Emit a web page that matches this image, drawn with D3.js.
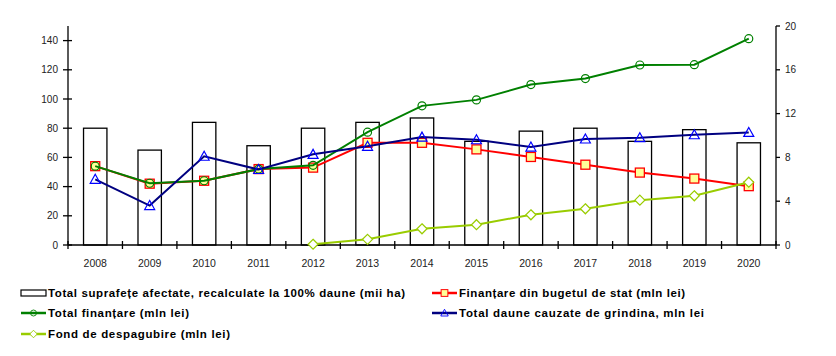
<!DOCTYPE html>
<html>
<head>
<meta charset="utf-8">
<script src="https://cdn.jsdelivr.net/npm/d3@7/dist/d3.min.js"></script>
<style>
  html, body { margin: 0; padding: 0; background: #fff; }
  svg { display: block; }
  text { font-family: "Liberation Sans", Arial, sans-serif; }
</style>
</head>
<body>
<div id="chart"></div>
<script>
const years = ["2008","2009","2010","2011","2012","2013","2014","2015","2016","2017","2018","2019","2020"];
const suprafete = [80, 65, 84, 68, 80, 84, 87, 71, 78, 80, 71, 79, 70];
const bugetStat = [54, 42, 44, 52, 53, 70, 70, 65.5, 60.3, 55, 49.6, 45.5, 40.3];
const totalFinantare = [54, 42.3, 44, 52, 54.6, 77.3, 95.3, 99.4, 109.9, 114, 123.3, 123.5, 141.3];
const totalDaune = [45, 27, 60.8, 51.7, 62.1, 67.6, 73.9, 72.1, 67.1, 72.6, 73.5, 75.5, 77.1];
const fondDespagubire = [null, null, null, null, 0.5, 3.9, 11.1, 13.9, 20.7, 24.8, 30.7, 33.7, 43];
const leftTicks = [0, 20, 40, 60, 80, 100, 120, 140];
const rightTicks = [0, 4, 8, 12, 16, 20];
const legendLabels = [
  "Total suprafețe afectate, recalculate la 100% daune (mii ha)",
  "Finanțare din bugetul de stat (mln lei)",
  "Total finanțare (mln lei)",
  "Total daune cauzate de grindina, mln lei",
  "Fond de despagubire (mln lei)"
];

const W = 836, H = 356;
const svg = d3.select("#chart").append("svg").attr("width", W).attr("height", H);

const x = d3.scaleBand().domain(years).range([68, 776]).padding(0);
const y = d3.scaleLinear().domain([0, 150]).range([245, 26]);
const yR = d3.scaleLinear().domain([0, 20]).range([245, 26]);

// bars
const barW = 23.4;
svg.append("g").selectAll("rect").data(years).join("rect")
  .attr("x", d => x(d) + x.bandwidth() / 2 - barW / 2)
  .attr("y", (d, i) => y(suprafete[i]))
  .attr("width", barW)
  .attr("height", (d, i) => y(0) - y(suprafete[i]))
  .attr("fill", "#fff").attr("stroke", "#000").attr("stroke-width", 1.3);

// axes
const axisG = svg.append("g");
axisG.append("line").attr("x1", 68).attr("x2", 68).attr("y1", 26).attr("y2", 245).attr("stroke", "#000").attr("stroke-width", 1.3);
axisG.selectAll(".lt").data(leftTicks).join("line")
  .attr("x1", 63).attr("x2", 72).attr("y1", d => y(d)).attr("y2", d => y(d))
  .attr("stroke", "#000").attr("stroke-width", 1.3);
axisG.selectAll(".ll").data(leftTicks).join("text")
  .attr("x", 58).attr("y", d => y(d) + 3.5).attr("text-anchor", "end")
  .attr("font-size", 10).attr("fill", "#222").text(d => d);
axisG.append("line").attr("x1", 776).attr("x2", 776).attr("y1", 26).attr("y2", 245).attr("stroke", "#000").attr("stroke-width", 1.3);
axisG.selectAll(".rt").data(rightTicks).join("line")
  .attr("x1", 776).attr("x2", 780).attr("y1", d => yR(d)).attr("y2", d => yR(d))
  .attr("stroke", "#000").attr("stroke-width", 1.3);
axisG.selectAll(".rl").data(rightTicks).join("text")
  .attr("x", 785).attr("y", d => yR(d) + 3.5).attr("text-anchor", "start")
  .attr("font-size", 10).attr("fill", "#222").text(d => d);
axisG.append("line").attr("x1", 68).attr("x2", 776).attr("y1", 245).attr("y2", 245).attr("stroke", "#000").attr("stroke-width", 1.3);
const bounds = years.map(d => x(d)).concat([776]);
axisG.selectAll(".xt").data(bounds).join("line")
  .attr("x1", d => d).attr("x2", d => d).attr("y1", 241).attr("y2", 249)
  .attr("stroke", "#000").attr("stroke-width", 1.3);
axisG.selectAll(".xl").data(years).join("text")
  .attr("x", d => x(d) + x.bandwidth() / 2).attr("y", 267).attr("text-anchor", "middle")
  .attr("font-size", 10.5).attr("fill", "#222").text(d => d);

const cx = d => x(d) + x.bandwidth() / 2;

function drawSeries(values, color, markerFn) {
  const pts = years.map((d, i) => ({ d, v: values[i] })).filter(p => p.v !== null);
  const line = d3.line().x(p => cx(p.d)).y(p => y(p.v));
  const g = svg.append("g");
  g.append("path").attr("d", line(pts)).attr("fill", "none")
    .attr("stroke", color).attr("stroke-width", 2);
  const mg = g.append("g");
  pts.forEach(p => markerFn(mg, cx(p.d), y(p.v)));
}

const squareM = (g, px, py) => g.append("rect").attr("x", px - 4.5).attr("y", py - 4.5).attr("width", 9).attr("height", 9)
  .attr("fill", "#ffff99").attr("stroke", "#ff0000").attr("stroke-width", 1.3);
const circleM = (g, px, py) => g.append("circle").attr("cx", px).attr("cy", py).attr("r", 4)
  .attr("fill", "none").attr("stroke", "#008000").attr("stroke-width", 1.2);
const triM = (g, px, py) => g.append("path")
  .attr("d", `M${px},${py - 5}L${px + 5},${py + 4}L${px - 5},${py + 4}Z`)
  .attr("fill", "none").attr("stroke", "#0000ff").attr("stroke-width", 1.2);
const diaM = (g, px, py) => g.append("path")
  .attr("d", `M${px},${py - 5}L${px + 5},${py}L${px},${py + 5}L${px - 5},${py}Z`)
  .attr("fill", "#fff").attr("stroke", "#99cc00").attr("stroke-width", 1.2);

drawSeries(bugetStat, "#ff0000", squareM);
drawSeries(totalFinantare, "#008000", circleM);
drawSeries(totalDaune, "#000080", triM);
drawSeries(fondDespagubire, "#99cc00", diaM);

// legend
const legendItems = [
  { label: legendLabels[0], col: 0, row: 0, type: "bar", w: 357 },
  { label: legendLabels[1], col: 1, row: 0, color: "#ff0000", m: squareM, w: 226 },
  { label: legendLabels[2], col: 0, row: 1, color: "#008000", m: circleM, w: 141 },
  { label: legendLabels[3], col: 1, row: 1, color: "#000080", m: triM, w: 245 },
  { label: legendLabels[4], col: 0, row: 2, color: "#99cc00", m: diaM, w: 182 }
];
const rowY = [293, 313, 334];
const colX = [21, 432];
const lg = svg.append("g");
legendItems.forEach(it => {
  const x0 = colX[it.col], yy = rowY[it.row];
  if (it.type === "bar") {
    lg.append("rect").attr("x", x0).attr("y", yy - 3).attr("width", 25).attr("height", 6)
      .attr("fill", "#fff").attr("stroke", "#000").attr("stroke-width", 1.2);
  } else {
    lg.append("line").attr("x1", x0).attr("x2", x0 + 25).attr("y1", yy).attr("y2", yy)
      .attr("stroke", it.color).attr("stroke-width", 2.5);
    const sub = lg.append("g").attr("transform", `translate(${x0 + 12.5},${yy}) scale(0.75) translate(${-(x0 + 12.5)},${-yy})`);
    it.m(sub, x0 + 12.5, yy);
  }
  lg.append("text").attr("x", x0 + 27).attr("y", yy + 4).attr("font-size", 11.5)
    .attr("font-weight", "bold").attr("fill", "#000")
    .attr("textLength", it.w).attr("lengthAdjust", "spacing").text(it.label);
});
</script>
</body>
</html>
